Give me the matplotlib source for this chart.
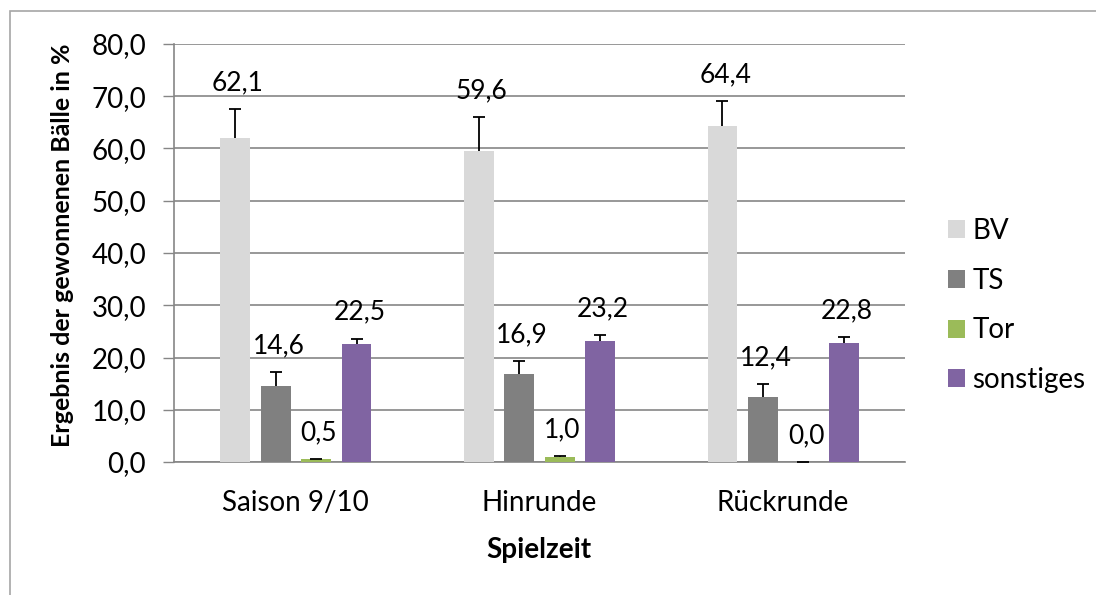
import numpy as np
import matplotlib
matplotlib.use('Agg')
import matplotlib.pyplot as plt
from matplotlib.patches import Rectangle

plt.rcParams['font.family'] = ['Lato', 'DejaVu Sans']

# data
categories = ['Saison 9/10', 'Hinrunde', 'Rückrunde']
series = ['BV', 'TS', 'Tor', 'sonstiges']
values = [[62.1, 59.6, 64.4],
          [14.6, 16.9, 12.4],
          [0.5, 1.0, 0.0],
          [22.5, 23.2, 22.8]]
errors = [[5.5, 6.4, 4.7],
          [2.6, 2.4, 2.5],
          [0.1, 0.1, 0.0],
          [1.1, 1.1, 1.1]]
colors = ['#D9D9D9', '#808080', '#9BBB59', '#8064A2']

fig = plt.figure(figsize=(10.96, 5.95), dpi=100)
ax = fig.add_axes([174/1096, 1-462/595, (905-174)/1096, (462-44)/595])

# grey frame (only top and left visible in the original)
fig.patches.append(Rectangle((10/1096, -0.1), 1.2, 1-11/595+0.1, transform=fig.transFigure,
                             fill=False, edgecolor='#A6A6A6', linewidth=1.2))

x = np.arange(len(categories)) + 0.5
step = 0.166
width = 0.123
for i, s in enumerate(series):
    xs = x + (i - 1.5) * step
    ax.bar(xs, values[i], width, color=colors[i], label=s, zorder=3)
    eb = ax.errorbar(xs, values[i], yerr=[np.zeros(3), errors[i]], fmt='none',
                     ecolor='black', elinewidth=1.3, capsize=4.5, capthick=1.3, zorder=4)
    # only the upper cap, like the original
    for cl in eb.lines[1]:
        if np.allclose(cl.get_ydata(), values[i]):
            cl.set_visible(False)
    for xi, v, e in zip(xs, values[i], errors[i]):
        ax.annotate(f'{v:.1f}'.replace('.', ','), (xi, v + e), textcoords='offset points',
                    xytext=(2, 19), ha='center', va='center', fontsize=19)

ax.set_xlim(0, 3)
ax.set_ylim(0, 80)
ax.set_yticks(np.arange(0, 81, 10))
ax.set_yticklabels([f'{t:.1f}'.replace('.', ',') for t in np.arange(0, 81, 10)], fontsize=20)
ax.set_xticks(x)
ax.set_xticklabels(categories, fontsize=20)
ax.tick_params(axis='x', length=0, pad=20)
ax.tick_params(axis='y', length=8, color='#868686', width=1, pad=12)
ax.grid(axis='y', color='#868686', linewidth=1.2, zorder=0)
for sp in ['top', 'right']:
    ax.spines[sp].set_visible(False)
for sp in ['left', 'bottom']:
    ax.spines[sp].set_color('#868686')
    ax.spines[sp].set_linewidth(1.2)

ax.set_xlabel('Spielzeit', fontsize=20, fontweight='bold', va='center')
ax.xaxis.set_label_coords((539-174)/731, -(550-462)/418)
ax.set_ylabel('Ergebnis der gewonnenen Bälle in %', fontsize=18, fontweight='bold', va='center')
ax.yaxis.set_label_coords((63-174)/731, (462-245)/418)

ax.legend(loc='center left', bbox_to_anchor=(1.044, 0.374), borderaxespad=0, frameon=False,
          fontsize=20, handlelength=0.62, handleheight=0.62, handletextpad=0.25,
          labelspacing=0.85)

plt.savefig('out.png', dpi=100)
